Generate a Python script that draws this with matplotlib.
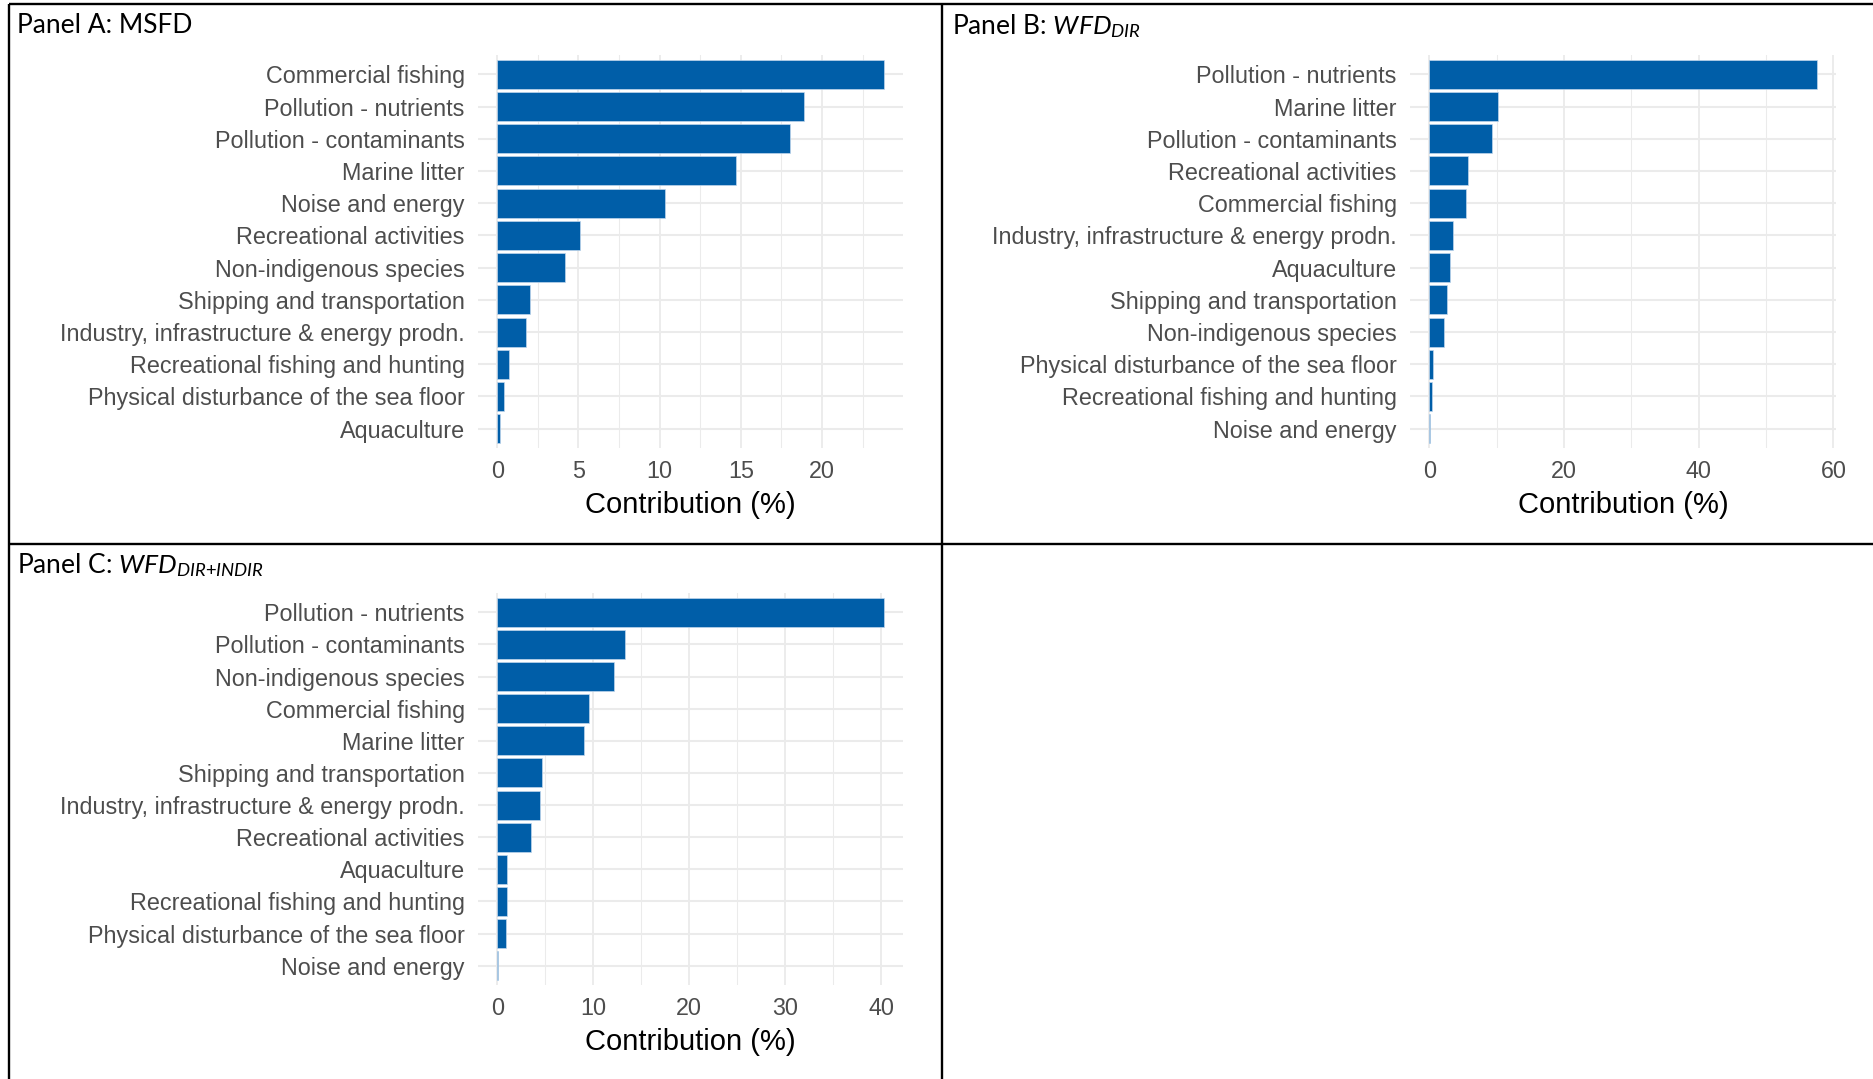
import numpy as np
import matplotlib
matplotlib.use("Agg")
import matplotlib.pyplot as plt
from matplotlib.lines import Line2D

# ---------------------------------------------------------------------
# data (top bar first)
msfd_labels = [
    "Commercial fishing", "Pollution - nutrients", "Pollution - contaminants",
    "Marine litter", "Noise and energy", "Recreational activities",
    "Non-indigenous species", "Shipping and transportation",
    "Industry, infrastructure & energy prodn.", "Recreational fishing and hunting",
    "Physical disturbance of the sea floor", "Aquaculture",
]
msfd_values = [23.8, 18.9, 18.0, 14.7, 10.3, 5.1, 4.2, 2.0, 1.75, 0.7, 0.4, 0.15]

wfd_dir_labels = [
    "Pollution - nutrients", "Marine litter", "Pollution - contaminants",
    "Recreational activities", "Commercial fishing",
    "Industry, infrastructure & energy prodn.", "Aquaculture",
    "Shipping and transportation", "Non-indigenous species",
    "Physical disturbance of the sea floor", "Recreational fishing and hunting",
    "Noise and energy",
]
wfd_dir_values = [57.5, 10.2, 9.3, 5.75, 5.5, 3.55, 3.1, 2.65, 2.1, 0.55, 0.45, 0.05]

wfd_all_labels = [
    "Pollution - nutrients", "Pollution - contaminants", "Non-indigenous species",
    "Commercial fishing", "Marine litter", "Shipping and transportation",
    "Industry, infrastructure & energy prodn.", "Recreational activities",
    "Aquaculture", "Recreational fishing and hunting",
    "Physical disturbance of the sea floor", "Noise and energy",
]
wfd_all_values = [40.25, 13.35, 12.2, 9.6, 9.05, 4.7, 4.45, 3.55, 1.05, 1.0, 0.9, 0.03]

msfd_ticks = [0, 5, 10, 15, 20]
wfd_dir_ticks = [0, 20, 40, 60]
wfd_all_ticks = [0, 10, 20, 30, 40]
# ---------------------------------------------------------------------

W, H = 1874, 1079
BAR = "#005EA8"
GRID = "#EBEBEB"
TXT = "#4D4D4D"

plt.rcParams["mathtext.fontset"] = "custom"
plt.rcParams["mathtext.rm"] = "Lato"
plt.rcParams["mathtext.it"] = "Lato:italic"

fig = plt.figure(figsize=(W / 100, H / 100), dpi=100)
fig.patch.set_facecolor("white")


def px_axes(x0, y0, x1, y1):
    # pixel box (top-left origin) -> figure fraction axes
    return fig.add_axes([x0 / W, 1 - y1 / H, (x1 - x0) / W, (y1 - y0) / H])


def bar_panel(x0, y0, x1, y1, labels, values, ticks, minor):
    ax = px_axes(x0, y0, x1, y1)
    n = len(values)
    ypos = np.arange(n)[::-1]
    vmax = max(values)
    ax.set_xlim(-0.05 * vmax, 1.05 * vmax)
    ax.set_ylim(-0.6, n - 0.4)
    for m in minor:
        ax.axvline(m, color=GRID, lw=0.75, zorder=0)
    for t in ticks:
        ax.axvline(t, color=GRID, lw=1.3, zorder=0)
    for yy in ypos:
        ax.axhline(yy, color=GRID, lw=1.5, zorder=0)
    ax.barh(ypos, values, height=0.9, color=BAR, edgecolor="#BFD6EC",
            linewidth=0.5, zorder=2)
    ax.set_yticks(ypos)
    ax.set_yticklabels(labels, fontfamily="Liberation Sans", fontsize=16.8,
                       color=TXT)
    ax.set_xticks(ticks)
    ax.set_xticklabels([str(t) for t in ticks], fontfamily="Liberation Sans",
                       fontsize=16.8, color=TXT)
    ax.tick_params(axis="y", length=0, pad=9.5)
    ax.tick_params(axis="x", length=0, pad=8.5)
    ax.set_xlabel("Contribution (%)", fontfamily="Liberation Sans",
                  fontsize=21, color="black", labelpad=6)
    for s in ax.spines.values():
        s.set_visible(False)
    ax.set_facecolor("none")
    return ax


bar_panel(478, 55, 903, 448, msfd_labels, msfd_values, msfd_ticks,
          [2.5, 7.5, 12.5, 17.5, 22.5])
bar_panel(1410, 55, 1836, 448, wfd_dir_labels, wfd_dir_values, wfd_dir_ticks,
          [10, 30, 50])
bar_panel(478, 593, 903, 985, wfd_all_labels, wfd_all_values, wfd_all_ticks,
          [5, 15, 25, 35])

# panel titles (table cell captions)
tkw = dict(fontfamily="Lato", fontsize=19, color="black", ha="left",
           va="baseline")
fig.text(17 / W, 1 - 33 / H, "Panel A: MSFD", **tkw)
fig.text(952 / W, 1 - 34 / H, r"Panel B: $WFD_{DIR}$", **tkw)
fig.text(17 / W, 1 - 573 / H, r"Panel C: $WFD_{DIR{+}INDIR}$", **tkw)

# table borders
lkw = dict(color="black", lw=1.7, solid_capstyle="butt")
for (xa, ya, xb, yb) in [(9, 4, W, 4), (9, 4, 9, H), (942, 4, 942, H),
                         (9, 544, W, 544)]:
    fig.add_artist(Line2D([xa / W, xb / W], [1 - ya / H, 1 - yb / H],
                          transform=fig.transFigure, **lkw))

fig.savefig("out.png", dpi=100)
